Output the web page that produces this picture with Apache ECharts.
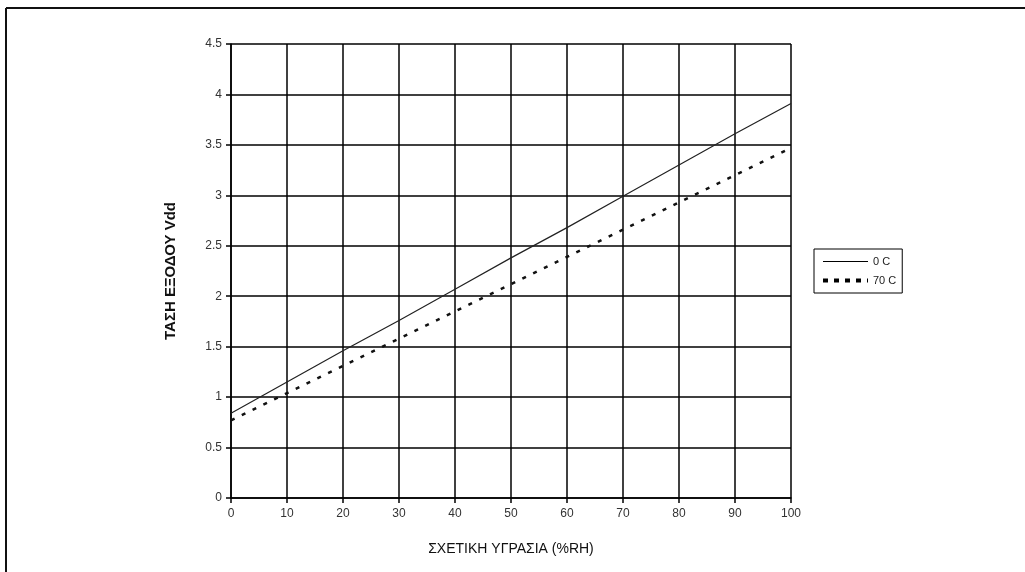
<!DOCTYPE html>
<html>
<head>
<meta charset="utf-8">
<script src="https://cdn.jsdelivr.net/npm/echarts@6/dist/echarts.min.js"></script>
<style>
  html, body { margin: 0; padding: 0; background: #fff; overflow: hidden; }
  #chart { width: 1025px; height: 572px; }
</style>
</head>
<body>
<div id="chart"></div>
<script>
// data
var humidity = [0, 10, 20, 30, 40, 50, 60, 70, 80, 90, 100];
var volt0C = [0.84, 1.15, 1.46, 1.76, 2.07, 2.38, 2.68, 2.99, 3.30, 3.61, 3.91];
var volt70C = [0.77, 1.04, 1.31, 1.58, 1.85, 2.12, 2.39, 2.66, 2.93, 3.20, 3.47];
var seriesNames = ['0 C', '70 C'];

function pairs(xs, ys) {
  return xs.map(function (x, i) { return [x, ys[i]]; });
}

var chart = echarts.init(document.getElementById('chart'));
var font = 'Liberation Sans, Arial, sans-serif';
var noSymbol = { color: 'transparent', borderWidth: 0, borderColor: 'transparent' };

chart.setOption({
  backgroundColor: '#fff',
  animation: false,
  textStyle: { fontFamily: font },
  // outer frame, only left and top edges show in the picture
  graphic: [
    { type: 'line', shape: { x1: 6, y1: 8, x2: 1025, y2: 8 }, style: { stroke: '#111', lineWidth: 2 }, silent: true },
    { type: 'line', shape: { x1: 6, y1: 8, x2: 6, y2: 572 }, style: { stroke: '#111', lineWidth: 2 }, silent: true }
  ],
  grid: { left: 231, top: 44, right: 234, bottom: 74 },
  legend: {
    orient: 'vertical',
    left: 814,
    top: 249,
    padding: [7, 6, 7, 7],
    itemGap: 8,
    itemWidth: 45,
    itemHeight: 10,
    borderColor: '#000',
    borderWidth: 1,
    textStyle: { fontSize: 11, color: '#222', fontFamily: font },
    data: [
      { name: seriesNames[0], itemStyle: noSymbol, lineStyle: { color: '#000', width: 1 } },
      { name: seriesNames[1], itemStyle: noSymbol, lineStyle: { color: '#000', width: 4, type: [5, 6] } }
    ]
  },
  xAxis: {
    type: 'value',
    min: 0, max: 100, interval: 10,
    name: 'ΣΧΕΤΙΚΗ ΥΓΡΑΣΙΑ (%RH)',
    nameLocation: 'middle',
    nameGap: 44,
    nameTextStyle: { fontSize: 14, color: '#111', fontFamily: font },
    axisLine: { onZero: false, lineStyle: { color: '#000', width: 1.5 } },
    axisTick: { show: true, length: 5, lineStyle: { color: '#000', width: 1.5 } },
    axisLabel: { fontSize: 12, color: '#333', margin: 10 },
    splitLine: { show: true, lineStyle: { color: '#000', width: 1.5 } }
  },
  yAxis: {
    type: 'value',
    min: 0, max: 4.5, interval: 0.5,
    name: 'ΤΑΣΗ ΕΞΟΔΟΥ Vdd',
    nameLocation: 'middle',
    nameGap: 53,
    nameRotate: 90,
    nameTextStyle: { fontSize: 15, fontWeight: 'bold', color: '#111', fontFamily: font },
    axisLine: { show: true, lineStyle: { color: '#000', width: 1.5 } },
    axisTick: { show: true, length: 5, lineStyle: { color: '#000', width: 1.5 } },
    axisLabel: { fontSize: 12, color: '#333', margin: 9 },
    splitLine: { show: true, lineStyle: { color: '#000', width: 1.5 } }
  },
  series: [
    {
      name: seriesNames[0],
      type: 'line',
      symbol: 'none',
      data: pairs(humidity, volt0C),
      lineStyle: { color: '#222', width: 1.2 },
      itemStyle: { color: '#000' }
    },
    {
      name: seriesNames[1],
      type: 'line',
      symbol: 'none',
      data: pairs(humidity, volt70C),
      lineStyle: { color: '#111', width: 2.5, type: [4, 8] },
      itemStyle: { color: '#000' }
    }
  ]
});
</script>
</body>
</html>
